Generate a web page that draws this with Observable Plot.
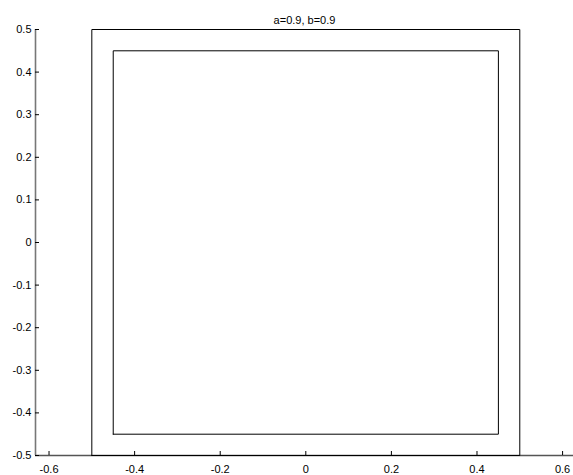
<!DOCTYPE html>
<html>
<head>
<meta charset="utf-8">
<script src="https://cdn.jsdelivr.net/npm/d3@7"></script>
<script src="https://cdn.jsdelivr.net/npm/@observablehq/plot@0.6"></script>
<style>
  html, body { margin: 0; padding: 0; background: #fff; }
  svg { font-family: "Liberation Sans", Arial, sans-serif; }
</style>
</head>
<body>
<div id="chart"></div>
<script>
const title = "a=0.9, b=0.9";
// square half-widths
const outerHalf = 0.5;
const innerHalf = 0.45;
const cornerSigns = [[-1,-1],[1,-1],[1,1],[-1,1],[-1,-1]];
const xTicks = [-0.6, -0.4, -0.2, 0, 0.2, 0.4, 0.6];
const yTicks = [-0.5, -0.4, -0.3, -0.2, -0.1, 0, 0.1, 0.2, 0.3, 0.4, 0.5];
const xDomain = [-0.6316, 0.6255];
const yDomain = [-0.5, 0.5];

const square = (h, name) => cornerSigns.map(([sx, sy]) => ({x: sx * h, y: sy * h, name}));
const squares = [...square(outerHalf, "outer"), ...square(innerHalf, "inner")];
const fmt = d => d === 0 ? "0" : d.toFixed(1);

const chart = Plot.plot({
  width: 573,
  height: 475,
  marginLeft: 35,
  marginRight: 0,
  marginTop: 29,
  marginBottom: 20,
  style: {fontSize: "11px", fontFamily: "Liberation Sans, Arial, sans-serif", color: "#000"},
  x: {domain: xDomain},
  y: {domain: yDomain},
  marks: [
    Plot.ruleX([xDomain[0]], {stroke: "#777", strokeWidth: 1.6}),
    Plot.ruleY([yDomain[0]], {stroke: "#555", strokeWidth: 1.6}),
    Plot.line(squares, {x: "x", y: "y", z: "name", stroke: "#000", strokeWidth: 1}),
    Plot.axisX({ticks: xTicks, tickFormat: fmt, tickSize: -4, tickPadding: 14, stroke: "#000", label: null, fill: "#000"}),
    Plot.axisY({ticks: yTicks, tickFormat: fmt, tickSize: -4, tickPadding: 8, stroke: "#000", label: null, fill: "#000"}),
    Plot.text([title], {text: d => d, frameAnchor: "top", dy: -13, fontSize: 11, fill: "#000"})
  ]
});
document.getElementById("chart").appendChild(chart);
</script>
</body>
</html>
